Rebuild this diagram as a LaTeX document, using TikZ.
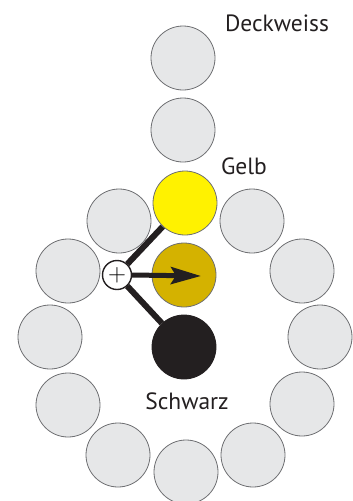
\documentclass[tikz,border=0pt]{standalone}
\usepackage{fontspec}
\setmainfont{PT Sans}
\usetikzlibrary{arrows.meta,backgrounds}
\definecolor{swatchgrey}{HTML}{E6E7E8}
\definecolor{rimgrey}{HTML}{6D6E71}
\definecolor{gelbfill}{HTML}{FFF200}
\definecolor{ockerfill}{HTML}{D4B200}
\definecolor{inkblack}{HTML}{231F20}
\tikzstyle{swatch}=[circle, draw=rimgrey, fill=swatchgrey, line width=0.8pt,
                    minimum size=64pt, inner sep=0pt]
\tikzstyle{mixer}=[circle, draw=inkblack, fill=white, line width=1.4pt,
                   minimum size=29pt, inner sep=0pt, font=\fontsize{25}{25}\selectfont]
\tikzstyle{feed}=[inkblack, line width=6pt]
\tikzstyle{label}=[text=inkblack, font=\fontsize{23.5}{24}\selectfont]

\begin{document}
\begin{tikzpicture}[x=1pt,y=-1pt]
\useasboundingbox (0,0) rectangle (353,501);

% column of tints
\node (DECKWEISS) [swatch] at (183,58) {};
\node (TINT) [swatch] at (183,130) {};
\node (GELB) [swatch, fill=gelbfill, draw=rimgrey] at (185,203) {};
\node (OCKER) [swatch, fill=ockerfill, draw=rimgrey] at (184,275) {};
\node (SCHWARZ) [swatch, fill=inkblack, draw=inkblack] at (184,347) {};

% outer ring
\node (RINGL1) [swatch] at (119,221) {};
\node (RINGL2) [swatch] at (68,271) {};
\node (RINGL3) [swatch] at (50,337) {};
\node (RINGL4) [swatch] at (68,405) {};
\node (RINGL5) [swatch] at (118,455) {};
\node (RINGB) [swatch] at (186,472) {};
\node (RINGR5) [swatch] at (253,455) {};
\node (RINGR4) [swatch] at (302,404) {};
\node (RINGR3) [swatch] at (320,337) {};
\node (RINGR2) [swatch] at (302,271) {};
\node (RINGR1) [swatch] at (252,221) {};

% mixing point
\node (PLUS) [mixer] at (117,275) {$+$};
\coordinate (MIXTIP) at (201,276);

\begin{scope}[on background layer]
 \draw[feed] (PLUS) -- (GELB);
 \draw[feed] (PLUS) -- (SCHWARZ);
\end{scope}
\draw[feed, line width=5pt, -{Stealth[length=30pt,width=17pt,inset=5pt]}] (PLUS.east) -- (MIXTIP);

% names
\node (LDECK) [label] at (277,23) {Deckweiss};
\node (LGELB) [label] at (244,166) {Gelb};
\node (LSCHWARZ) [label] at (187,401) {Schwarz};

\end{tikzpicture}
\end{document}
